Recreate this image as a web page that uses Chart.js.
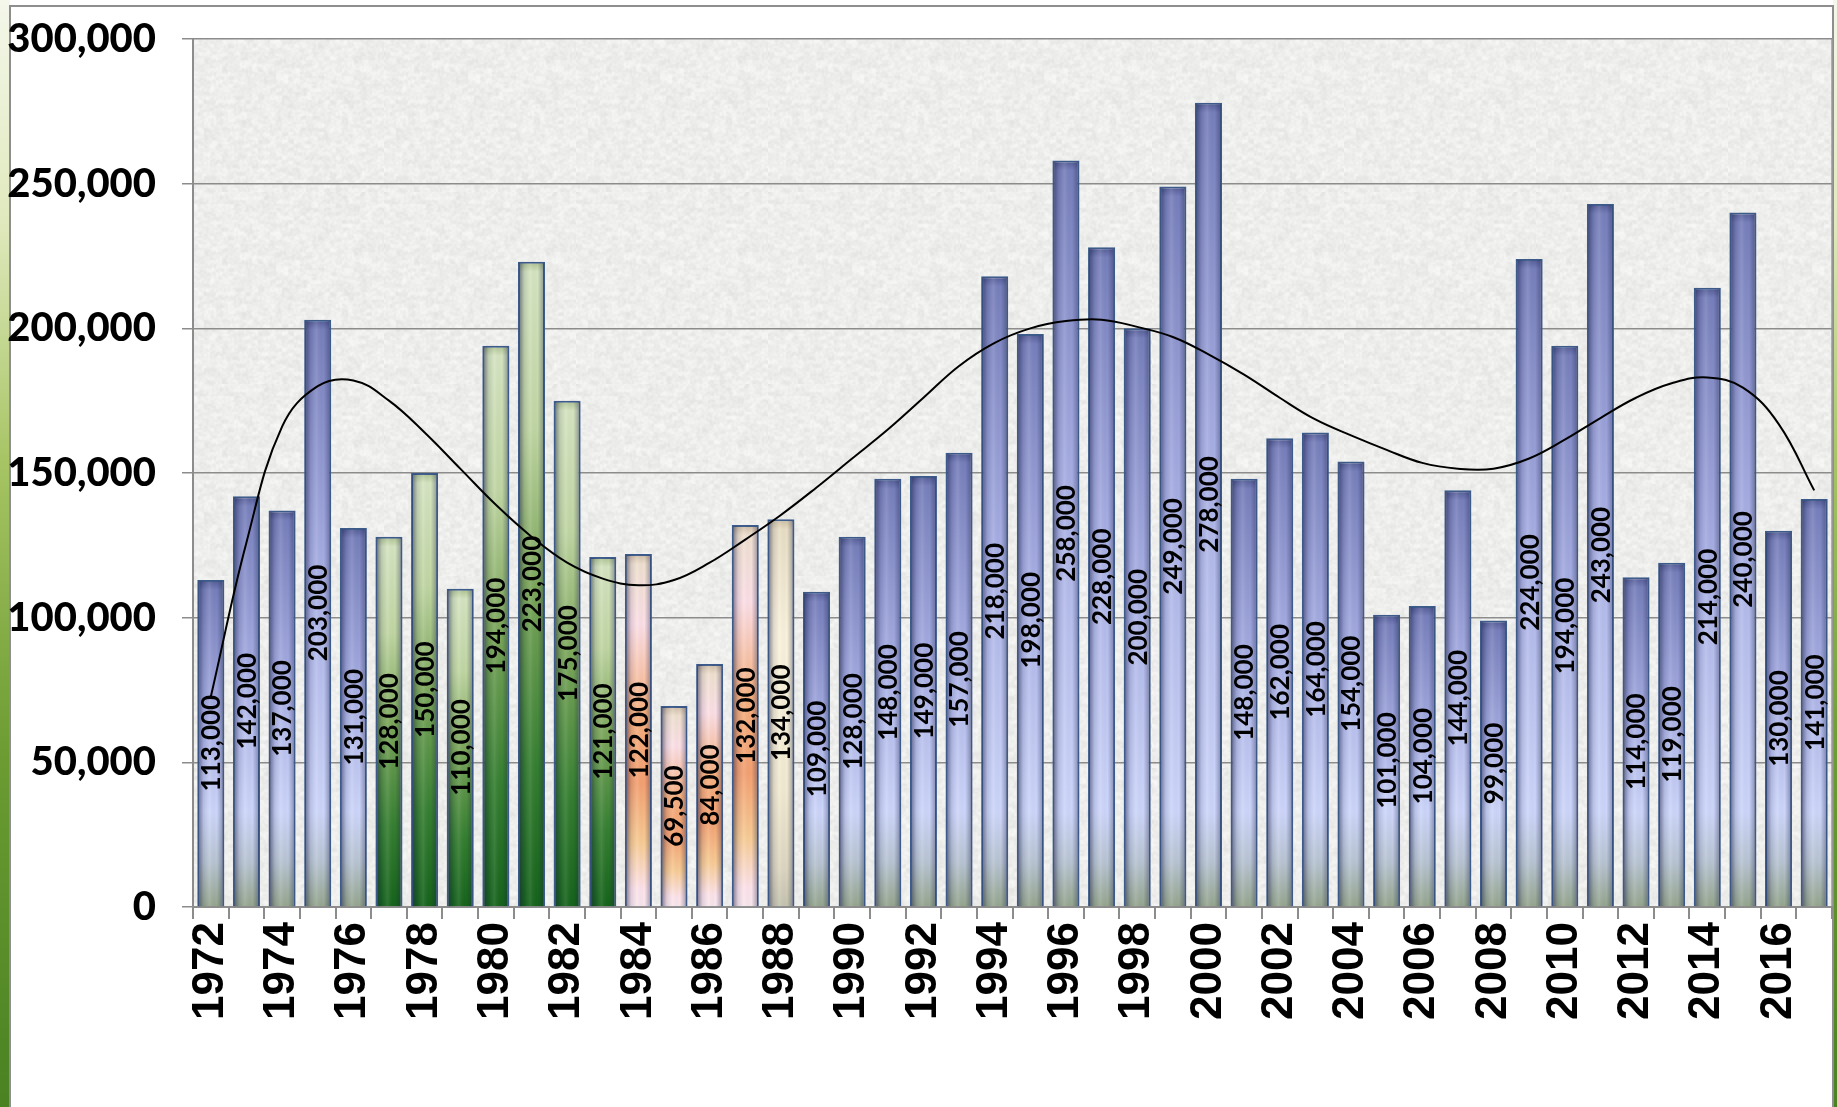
<!DOCTYPE html>
<html><head><meta charset="utf-8">
<script src="https://cdn.jsdelivr.net/npm/chart.js@4.4.1/dist/chart.umd.min.js"></script>
<style>
html,body{margin:0;padding:0;width:1837px;height:1107px;overflow:hidden;}
body{background:linear-gradient(180deg,#f4f7ea 0%,#e0e9bd 20%,#a6c463 42%,#6c9c32 68%,#4a8222 100%);}
#c{position:absolute;left:0;top:0;}
</style></head><body>
<canvas id="c" width="1837" height="1107"></canvas>
<script>
// ---------- data ----------
const years = ['1972','1973','1974','1975','1976','1977','1978','1979','1980','1981','1982','1983','1984','1985','1986','1987','1988','1989','1990','1991','1992','1993','1994','1995','1996','1997','1998','1999','2000','2001','2002','2003','2004','2005','2006','2007','2008','2009','2010','2011','2012','2013','2014','2015','2016','2017'];
const values = [113000,142000,137000,203000,131000,128000,150000,110000,194000,223000,175000,121000,122000,69500,84000,132000,134000,109000,128000,148000,149000,157000,218000,198000,258000,228000,200000,249000,278000,148000,162000,164000,154000,101000,104000,144000,99000,224000,194000,243000,114000,119000,214000,240000,130000,141000];
const trendValues = [72700,126000,166000,180000,182000,175000,164000,151500,139000,128000,119000,113500,111200,113000,119000,127000,135500,145000,155000,165000,176000,187000,195000,200000,202500,203000,200500,197000,191000,184000,176000,168500,163000,158000,153500,151500,151500,155000,161500,169000,176000,181000,183000,179500,167000,144000];
const yTickLabels = ['0','50,000','100,000','150,000','200,000','250,000','300,000'];
const dataLabels = ['113,000','142,000','137,000','203,000','131,000','128,000','150,000','110,000','194,000','223,000','175,000','121,000','122,000','69,500','84,000','132,000','134,000','109,000','128,000','148,000','149,000','157,000','218,000','198,000','258,000','228,000','200,000','249,000','278,000','148,000','162,000','164,000','154,000','101,000','104,000','144,000','99,000','224,000','194,000','243,000','114,000','119,000','214,000','240,000','130,000','141,000'];

// ---------- styles ----------
function paletteName(year){
  const y = +year;
  if (y >= 1977 && y <= 1983) return 'green';
  if (y >= 1984 && y <= 1987) return 'peach';
  if (y === 1988) return 'cream';
  return 'blue';
}
const palettes = {
  blue: h => [[0,'#525a94'],[10/h,'#777fbb'],[0.42,'#a6ade2'],[Math.max(0.55,1-95/h),'#cdd6fa'],[Math.max(0.6,1-45/h),'#b8c4d2'],[1,'#94a58c']],
  green: h => [[0,'#a9bf8c'],[10/h,'#d5e4c0'],[0.26,'#c0d6a2'],[0.5,'#7ca75a'],[0.78,'#357f30'],[1,'#15631a']],
  peach: h => [[0,'#cdb9a2'],[10/h,'#efe0cf'],[0.2,'#fcdfe6'],[0.45,'#f6b07e'],[0.65,'#f4a070'],[0.82,'#f8cc94'],[0.95,'#fde3ea'],[1,'#f8e6ec']],
  cream: h => [[0,'#c9bd9f'],[10/h,'#e8dec4'],[0.3,'#faf2dc'],[0.7,'#f2ead0'],[0.9,'#ddd6c0'],[1,'#c4c2ae']]
};
function barFill(context){
  const chart = context.chart;
  const ys = chart.scales.y;
  if (!ys || context.type !== 'data' || !chart.chartArea) return '#a6ade2';
  const top = ys.getPixelForValue(context.raw);
  const base = ys.getPixelForValue(0);
  const h = Math.max(base - top, 1);
  const g = chart.ctx.createLinearGradient(0, top, 0, base);
  const stops = palettes[paletteName(years[context.dataIndex])](h)
    .map(([o,c]) => [Math.min(1, Math.max(0, o)), c])
    .sort((a,b) => a[0]-b[0]);
  stops.forEach(([o,c]) => g.addColorStop(o, c));
  return g;
}

// deterministic speckled texture for the plot background
function makeTexture(){
  const n = 96, cv = document.createElement('canvas');
  cv.width = n; cv.height = n;
  const x = cv.getContext('2d');
  const img = x.createImageData(n, n);
  const hash = (i, j) => { const s = Math.sin(i * 127.1 + j * 311.7) * 43758.5453; return s - Math.floor(s); };
  for (let j = 0; j < n; j++) for (let i = 0; i < n; i++) {
    const v = 0.55 * hash(i, j) + 0.45 * hash(Math.floor(i / 3), Math.floor(j / 2) + 500);
    const g = Math.round(226 + v * 24);
    const k = (j * n + i) * 4;
    img.data[k] = g; img.data[k+1] = g; img.data[k+2] = g - 2; img.data[k+3] = 255;
  }
  x.putImageData(img, 0, 0);
  const big = document.createElement('canvas');
  big.width = n * 2; big.height = n * 2;
  const bx = big.getContext('2d');
  bx.imageSmoothingEnabled = true;
  bx.drawImage(cv, 0, 0, n * 2, n * 2);
  return big;
}
const textureCanvas = makeTexture();

const framePlugin = {
  id: 'frame',
  beforeDraw(chart){
    const c = chart.ctx;
    c.save();
    c.fillStyle = '#ffffff';
    c.fillRect(10, 0, 1823, 1107);
    c.strokeStyle = '#8e8e8e';
    c.lineWidth = 2;
    c.beginPath();
    c.moveTo(10, 1107); c.lineTo(10, 6); c.lineTo(1833, 6); c.lineTo(1833, 1107);
    c.stroke();
    const a = chart.chartArea;
    c.fillStyle = c.createPattern(textureCanvas, 'repeat');
    c.fillRect(a.left, a.top, a.right - a.left, a.bottom - a.top);
    c.strokeStyle = '#9a9a9a';
    c.lineWidth = 1.5;
    c.beginPath();
    c.moveTo(a.right, a.top); c.lineTo(a.right, a.bottom);
    c.stroke();
    c.restore();
  }
};

const barDecor = {
  id: 'barDecor',
  afterDatasetDraw(chart, args){
    if (args.index !== 0) return;
    const c = chart.ctx;
    const meta = chart.getDatasetMeta(0);
    c.save();
    meta.data.forEach((el, i) => {
      const p = el.getProps(['x','y','base','width'], true);
      const left = p.x - p.width/2 + 1.5, w = p.width - 3;
      const g = c.createLinearGradient(left, 0, left + w, 0);
      g.addColorStop(0, 'rgba(25,30,70,0.5)');
      g.addColorStop(0.2, 'rgba(25,30,70,0.12)');
      g.addColorStop(0.45, 'rgba(255,255,255,0.1)');
      g.addColorStop(0.75, 'rgba(25,30,70,0.0)');
      g.addColorStop(1, 'rgba(25,30,70,0.35)');
      c.fillStyle = g;
      c.fillRect(left, p.y + 1.5, w, p.base - p.y - 1.5);
    });
    c.fillStyle = '#000';
    c.font = 'bold 26px Lato';
    c.textAlign = 'center';
    c.textBaseline = 'middle';
    meta.data.forEach((el, i) => {
      const p = el.getProps(['x','y','base'], true);
      c.save();
      c.translate(p.x + 1, (p.y + p.base) / 2);
      c.rotate(-Math.PI/2);
      c.fillText(dataLabels[i], 0, 0);
      c.restore();
    });
    c.restore();
  }
};

Chart.defaults.font.family = 'Lato';
new Chart(document.getElementById('c'), {
  type: 'bar',
  data: {
    labels: years,
    datasets: [
      {
        type: 'bar', data: values, order: 2,
        backgroundColor: barFill,
        borderColor: '#3d5b8a', borderWidth: 2,
        barPercentage: 0.76, categoryPercentage: 1.0
      },
      {
        type: 'line', data: trendValues, order: 1,
        borderColor: '#000', borderWidth: 2, pointRadius: 0, tension: 0.4, fill: false
      }
    ]
  },
  options: {
    responsive: false, devicePixelRatio: 1, animation: false,
    layout: { padding: { top: 39, right: 5, left: 0, bottom: 0 } },
    plugins: { legend: { display: false }, tooltip: { enabled: false } },
    scales: {
      x: {
        offset: true,
        grid: { offset: true, drawOnChartArea: false, drawTicks: true, tickLength: 12, color: '#8c8c8c', lineWidth: 2 },
        border: { color: '#8c8c8c', width: 2 },
        ticks: {
          autoSkip: false, maxRotation: 90, minRotation: 90, padding: 3, color: '#000',
          font: { family: 'Liberation Sans', weight: 'bold', size: 44 },
          callback: (v, i) => (i % 2 === 0 ? years[i] : '')
        },
        afterFit: s => { s.height = 200; s.paddingLeft = 0; s.paddingRight = 0; }
      },
      y: {
        min: 0, max: 300000,
        grid: { color: '#8c8c8c', lineWidth: 1.5, tickLength: 11 },
        border: { color: '#8c8c8c', width: 2 },
        ticks: {
          stepSize: 50000, padding: 26, color: '#000',
          font: { family: 'Lato', weight: '900', size: 40 },
          callback: v => yTickLabels[Math.round(v / 50000)]
        },
        afterFit: s => { s.width = 193; s.paddingTop = 0; s.paddingBottom = 0; }
      }
    }
  },
  plugins: [framePlugin, barDecor]
});
</script>
</body></html>
